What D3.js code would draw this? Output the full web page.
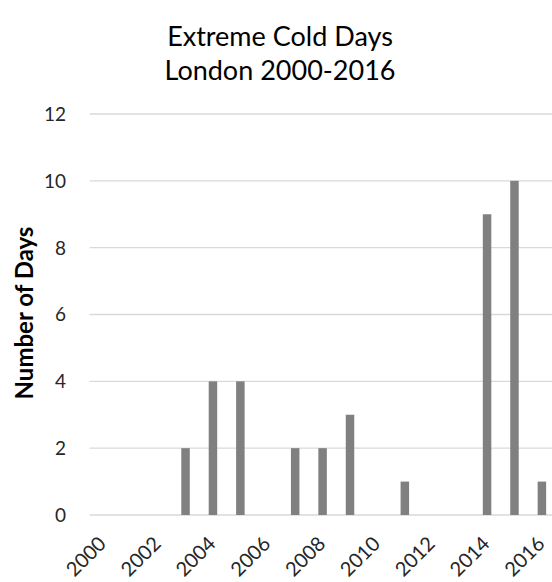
<!DOCTYPE html>
<html>
<head>
<meta charset="utf-8">
<script src="https://cdn.jsdelivr.net/npm/d3@7/dist/d3.min.js"></script>
<style>
  html, body { margin: 0; padding: 0; background: #fff; }
  svg { display: block; font-family: Lato, "Open Sans", sans-serif; }
</style>
</head>
<body>
<svg id="chart" width="552" height="582"></svg>
<script>
// Extreme cold days per year in London
const years = [2000, 2001, 2002, 2003, 2004, 2005, 2006, 2007, 2008,
               2009, 2010, 2011, 2012, 2013, 2014, 2015, 2016];
const coldDays = [0, 0, 0, 2, 4, 4, 0, 2, 2, 3, 0, 1, 0, 0, 9, 10, 1];
const xTickYears = [2000, 2002, 2004, 2006, 2008, 2010, 2012, 2014, 2016];
const yTicks = [0, 2, 4, 6, 8, 10, 12];
const titleLines = ["Extreme Cold Days", "London 2000-2016"];
const yTitle = "Number of Days";

const svg = d3.select("#chart");

const x = d3.scaleBand()
  .domain(years)
  .range([89.6, 555.6])
  .paddingInner(0.69)
  .paddingOuter(0.345);

const y = d3.scaleLinear().domain([0, 12]).range([515, 114]);

// gridlines
svg.append("g")
  .selectAll("line")
  .data(yTicks)
  .join("line")
  .attr("x1", 89.6)
  .attr("x2", 555.6)
  .attr("y1", d => y(d))
  .attr("y2", d => y(d))
  .attr("stroke", "#d9d9d9")
  .attr("stroke-width", 1.3);

// bars
svg.append("g")
  .selectAll("rect")
  .data(years.map((yr, i) => ({ yr, v: coldDays[i] })).filter(d => d.v > 0))
  .join("rect")
  .attr("x", d => x(d.yr))
  .attr("width", x.bandwidth())
  .attr("y", d => y(d.v))
  .attr("height", d => y(0) - y(d.v))
  .attr("fill", "#808080");

// y axis labels
const yAxis = d3.axisLeft(y).tickValues(yTicks).tickSize(0).tickPadding(0);
const gy = svg.append("g").attr("transform", "translate(66,0)").call(yAxis);
gy.select(".domain").remove();
gy.selectAll("text")
  .attr("font-family", "Lato, sans-serif")
  .attr("font-size", 19)
  .attr("fill", "#262626")
  .attr("dy", "0.34em");

// x axis labels, rotated
const xAxis = d3.axisBottom(x).tickValues(xTickYears).tickSize(0).tickPadding(0);
const gx = svg.append("g").attr("transform", "translate(0,515)").call(xAxis);
gx.select(".domain").remove();
gx.selectAll("text")
  .attr("font-family", "Lato, sans-serif")
  .attr("font-size", 20)
  .attr("fill", "#262626")
  .attr("text-anchor", "end")
  .attr("y", 0)
  .attr("dy", 0)
  .attr("transform", "translate(4,30) rotate(-45)");

// title
svg.append("text")
  .attr("text-anchor", "middle")
  .attr("font-size", 27)
  .attr("fill", "#000")
  .selectAll("tspan")
  .data(titleLines)
  .join("tspan")
  .attr("x", 280)
  .attr("y", (d, i) => 46 + i * 34)
  .text(d => d);

// y axis title
svg.append("text")
  .attr("transform", "translate(33,313) rotate(-90)")
  .attr("text-anchor", "middle")
  .attr("font-size", 24)
  .attr("font-weight", "bold")
  .attr("fill", "#000")
  .text(yTitle);
</script>
</body>
</html>
